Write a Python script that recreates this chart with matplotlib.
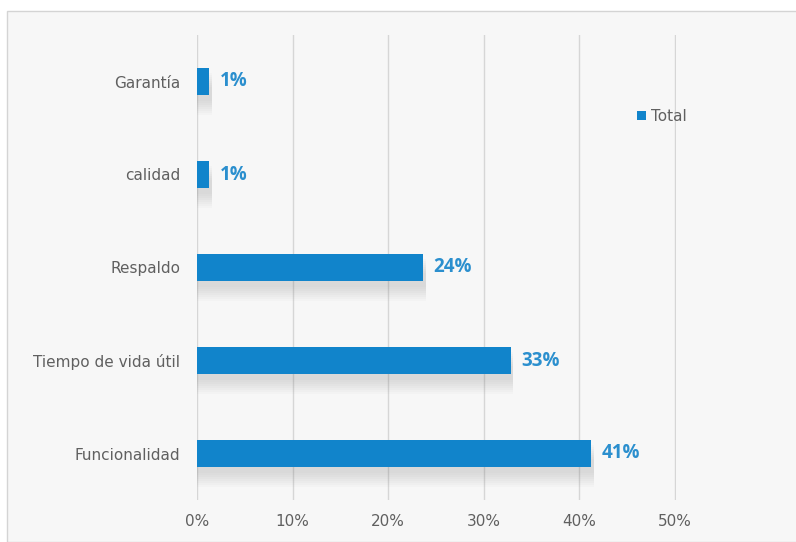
import matplotlib.pyplot as plt
import matplotlib.patches as mpatches

categories = ["Funcionalidad", "Tiempo de vida útil", "Respaldo", "calidad", "Garantía"]
values = [41.2, 32.8, 23.6, 1.3, 1.3]
xticks = [0, 10, 20, 30, 40, 50]

bar_color = "#1184cb"
label_color = "#2b8fce"
text_color = "#606060"

fig = plt.figure(figsize=(7.96, 5.42), dpi=100)
fig.patch.set_facecolor("white")

# chart area frame
frame = mpatches.Rectangle((7 / 796, 0), 1.0, 1 - 11 / 542, transform=fig.transFigure,
                           facecolor="#f7f7f7", edgecolor="#d4d4d4", linewidth=1.0, zorder=-5)
fig.patches.append(frame)

ax = fig.add_axes([197 / 796, 1 - 500 / 542, (676 - 197) / 796, (500 - 35) / 542])
ax.set_facecolor("none")

y = range(len(categories))

# soft shadow under each bar
for k in range(8):
    ax.barh([i - 0.06 - k * 0.022 for i in y], [v + 0.3 for v in values], height=0.30,
            color="#8a8a8a", alpha=0.035, linewidth=0, zorder=2)

ax.barh(list(y), values, height=0.30, color=bar_color, linewidth=0, zorder=3, label="Total")

for i, v in enumerate(values):
    ax.text(v + 1.1, i, f"{v:.0f}%", va="center", ha="left", color=label_color,
            fontsize=13.5, fontweight="bold", fontfamily="Open Sans", zorder=4)

ax.set_xlim(0, 50.1)
ax.set_ylim(-0.5, len(categories) - 0.5)
ax.set_xticks(xticks)
ax.set_xticklabels([f"{t}%" for t in xticks])
ax.set_yticks(list(y))
ax.set_yticklabels(categories)
ax.grid(axis="x", color="#d6d6d6", linewidth=1.0, zorder=1)
ax.set_axisbelow(True)
for s in ax.spines.values():
    s.set_visible(False)
ax.tick_params(axis="both", length=0, colors=text_color, labelsize=11)
ax.tick_params(axis="y", pad=12)
ax.tick_params(axis="x", pad=10)
for lbl in ax.get_xticklabels() + ax.get_yticklabels():
    lbl.set_fontfamily("DejaVu Sans")

leg = ax.legend(loc="center", bbox_to_anchor=(0.97, 0.825), frameon=False,
                handlelength=0.6, handleheight=0.6, handletextpad=0.3,
                prop={"family": "DejaVu Sans", "size": 11})
for t in leg.get_texts():
    t.set_color(text_color)

fig.savefig("out.png", dpi=100)
